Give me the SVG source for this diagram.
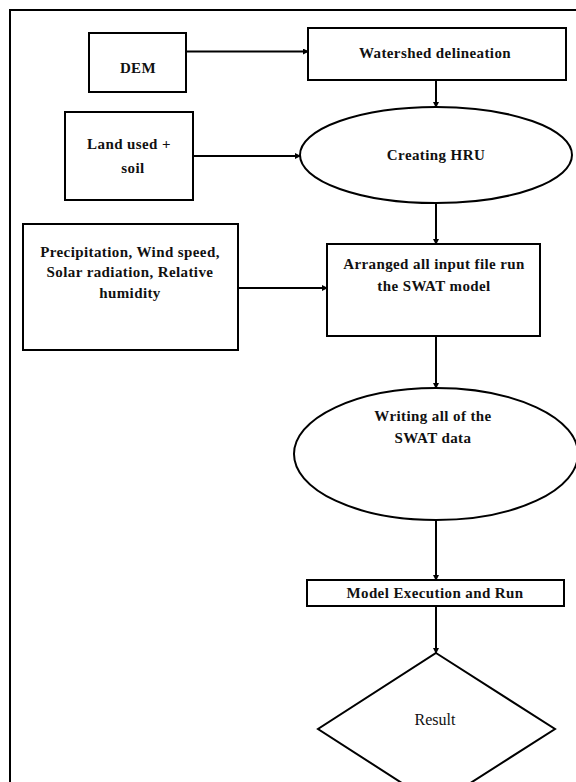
<svg xmlns="http://www.w3.org/2000/svg" width="576" height="782" viewBox="0 0 576 782">
<style>
.box{fill:#fff;stroke:#000;stroke-width:2}
.ln{fill:none;stroke:#000;stroke-width:2;marker-end:url(#ah)}
text{font-family:"Liberation Serif","Times New Roman",serif;font-size:15px;font-weight:bold;letter-spacing:0.4px;fill:#111;text-anchor:middle}
.n{font-weight:normal;font-size:16px;letter-spacing:0}
</style>
<defs>
<marker id="ah" markerWidth="6" markerHeight="6" refX="5" refY="3" orient="auto" markerUnits="userSpaceOnUse">
<path d="M0,0 L6,3 L0,6 z" fill="#000"/>
</marker>
</defs>
<rect x="0" y="0" width="576" height="782" fill="#fff"/>
<rect x="10" y="10" width="575" height="800" fill="none" stroke="#000" stroke-width="2"/>
<g id="connectors">
<line class="ln" x1="186" y1="51.5" x2="308" y2="51.5"/>
<line class="ln" x1="436" y1="80" x2="436" y2="107"/>
<line class="ln" x1="193" y1="156" x2="300" y2="156"/>
<line class="ln" x1="436" y1="203" x2="436" y2="244"/>
<line class="ln" x1="238" y1="288" x2="327" y2="288"/>
<line class="ln" x1="436" y1="336" x2="436" y2="388"/>
<line class="ln" x1="436" y1="520" x2="436" y2="580"/>
<line class="ln" x1="436" y1="606" x2="436" y2="653"/>
</g>
<g id="dem">
<rect class="box" x="89" y="33" width="97" height="59"/>
<text x="138" y="73">DEM</text>
</g>
<g id="watershed">
<rect class="box" x="308" y="28" width="258" height="52"/>
<text x="435" y="58">Watershed delineation</text>
</g>
<g id="landuse">
<rect class="box" x="65" y="112" width="128" height="88"/>
<text x="129" y="149">Land used +</text>
<text x="133" y="173">soil</text>
</g>
<g id="hru">
<ellipse class="box" cx="436" cy="155" rx="136" ry="48"/>
<text x="436" y="160">Creating HRU</text>
</g>
<g id="climate">
<rect class="box" x="23" y="224" width="215" height="126"/>
<text x="130" y="257">Precipitation, Wind speed,</text>
<text x="130" y="277">Solar radiation, Relative</text>
<text x="130" y="298">humidity</text>
</g>
<g id="arranged">
<rect class="box" x="327" y="244" width="213" height="92"/>
<text x="434" y="269">Arranged all input file run</text>
<text x="434" y="291">the SWAT model</text>
</g>
<g id="writing">
<ellipse class="box" cx="436" cy="454" rx="142" ry="66"/>
<text x="433" y="421">Writing all of the</text>
<text x="433" y="443">SWAT data</text>
</g>
<g id="model">
<rect class="box" x="307" y="580" width="257" height="26"/>
<text x="435" y="598">Model Execution and Run</text>
</g>
<g id="result">
<polygon class="box" points="436,653 555,729 436,805 318,729"/>
<text class="n" x="435" y="725">Result</text>
</g>
</svg>
